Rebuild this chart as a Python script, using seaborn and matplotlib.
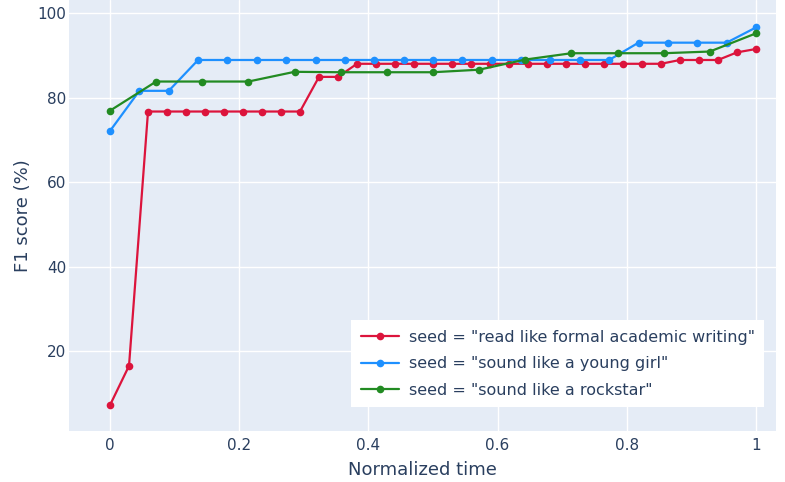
import seaborn as sns
import pandas as pd
import matplotlib.pyplot as plt

# red series: 35 points evenly spaced on [0, 1]
x_formal = [i / 34 for i in range(35)]
f1_formal = [7.2, 16.5, 76.7, 76.7, 76.7, 76.7, 76.7, 76.7, 76.7, 76.7, 76.7,
             84.9, 84.9, 88.0, 88.0, 88.0, 88.0, 88.0, 88.0, 88.0, 88.0, 88.0,
             88.0, 88.0, 88.0, 88.0, 88.0, 88.0, 88.0, 88.0, 88.9, 88.9, 88.9,
             90.7, 91.5]

# blue series: 23 points
x_girl = [i / 22 for i in range(23)]
f1_girl = [72.1, 81.6, 81.6, 88.9, 88.9, 88.9, 88.9, 88.9, 88.9, 88.9, 88.9,
           88.9, 88.9, 88.9, 88.9, 88.9, 88.9, 88.9, 93.0, 93.0, 93.0, 93.0, 96.6]

# green series: 15 points
x_rock = [i / 14 for i in range(15)]
f1_rock = [76.9, 83.8, 83.8, 83.8, 86.1, 86.0, 86.0, 86.0, 86.6, 89.0,
           90.5, 90.5, 90.5, 90.9, 95.2]

seeds = ['seed = "read like formal academic writing"',
         'seed = "sound like a young girl"',
         'seed = "sound like a rockstar"']
colors = ["#DC143C", "#1E90FF", "#228B22"]

sns.set_theme(style="darkgrid", rc={"axes.facecolor": "#E5ECF6",
                                    "grid.color": "white",
                                    "grid.linewidth": 1.0})
plt.rcParams["font.family"] = ["DejaVu Sans"]
text_col = "#2a3f5f"

fig, ax = plt.subplots(figsize=(7.85, 4.82), dpi=100)
fig.subplots_adjust(left=0.0879, right=0.9885, top=1.0, bottom=0.1058)

series = [(x_formal, f1_formal), (x_girl, f1_girl), (x_rock, f1_rock)]
for (xs, ys), name, c in zip(series, seeds, colors):
    df = pd.DataFrame({"t": xs, "f1": ys})
    sns.lineplot(data=df, x="t", y="f1", ax=ax, color=c, label=name,
                 marker="o", markersize=5.5, markeredgewidth=0, linewidth=1.6)

ax.set_xlim(-0.0635, 1.031)
ax.set_ylim(1.07, 103.1)
ax.set_xticks([0, 0.2, 0.4, 0.6, 0.8, 1])
ax.set_xticklabels(["0", "0.2", "0.4", "0.6", "0.8", "1"])
ax.set_yticks([20, 40, 60, 80, 100])
ax.tick_params(length=0, labelsize=11, labelcolor=text_col)
ax.tick_params(axis="x", pad=5)
ax.tick_params(axis="y", pad=2)
ax.set_xlabel("Normalized time", fontsize=13, color=text_col, labelpad=6)
ax.set_ylabel("F1 score (%)", fontsize=13, color=text_col, labelpad=4)
for s in ax.spines.values():
    s.set_visible(False)

leg = ax.legend(loc="upper left", bbox_to_anchor=(0.399, 0.2575), borderaxespad=0,
                frameon=True, fancybox=False, framealpha=1, facecolor="white",
                edgecolor="none", fontsize=11.5, handlelength=2.4,
                handletextpad=0.6, labelspacing=0.72, borderpad=0.6)
for t in leg.get_texts():
    t.set_color(text_col)

fig.savefig("out.png", dpi=100)
